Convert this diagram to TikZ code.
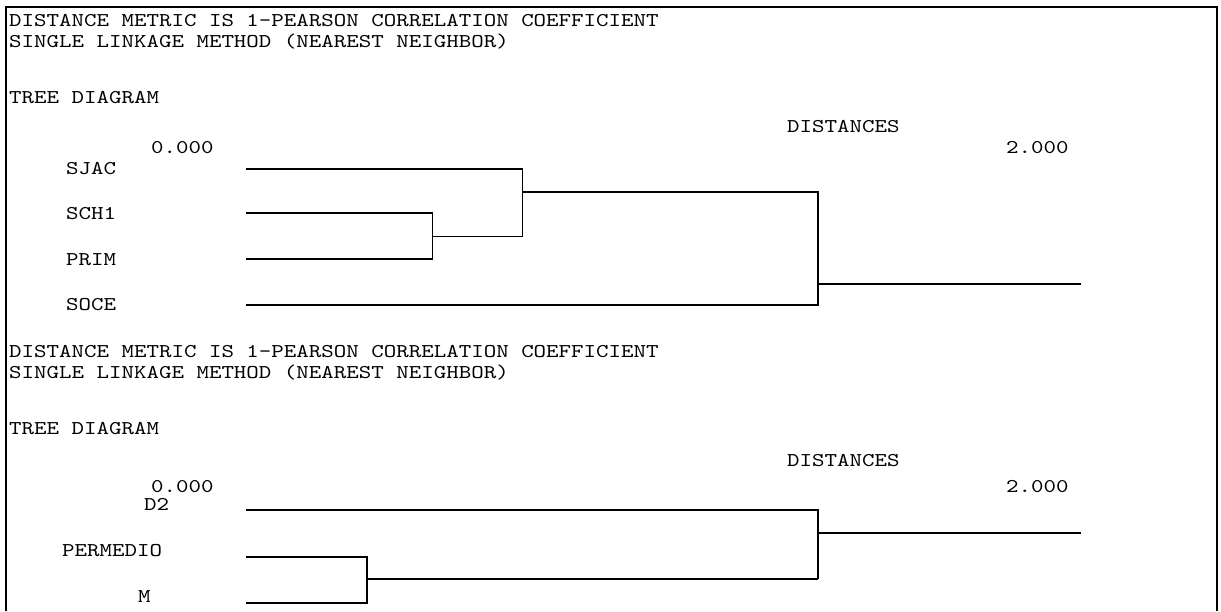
\documentclass[tikz,border=0pt]{standalone}
\usepackage{fontspec}
\setmonofont[FakeStretch=1.22]{lmmono10-regular.otf}
\begin{document}
\begin{tikzpicture}[x=1pt,y=-1pt,
  txt/.style={anchor=base west,inner sep=0pt,font=\ttfamily\fontsize{19.5}{24}\selectfont},
  tree/.style={line width=1.4pt},
  frame/.style={line width=2pt}]
\useasboundingbox (0,0) rectangle (1221,611);
% frame
\coordinate (fbl) at (5.5,611);
\coordinate (ftl) at (5.5,7);
\coordinate (ftr) at (1216.5,7);
\coordinate (fbr) at (1216.5,611);
\draw[frame] (fbl) -- (ftl) -- (ftr) -- (fbr);

% ---------- top panel ----------
\node[txt] (h1a) at (9,26) {DISTANCE METRIC IS 1-PEARSON CORRELATION COEFFICIENT};
\node[txt] (h1b) at (9,47) {SINGLE LINKAGE METHOD (NEAREST NEIGHBOR)};
\node[txt] (t1) at (9,103) {TREE DIAGRAM};
\node[txt] (d1) at (787,132) {DISTANCES};
\node[txt] (z1) at (151,153) {0.000};
\node[txt] (m1) at (1006,153) {2.000};
\node[txt] (sjac) at (66,174) {SJAC};
\node[txt] (sch1) at (66,219) {SCH1};
\node[txt] (prim) at (66,265) {PRIM};
\node[txt] (soce) at (66,310) {SOCE};

\coordinate (a0) at (246,169);
\coordinate (a1) at (522.5,169);
\coordinate (b0) at (246,213);
\coordinate (b1) at (432.5,213);
\coordinate (c0) at (246,259);
\coordinate (c1) at (432.5,259);
\coordinate (bc) at (432.5,236.5);
\coordinate (bc1) at (522.5,236.5);
\coordinate (abc) at (522.5,192);
\coordinate (abc1) at (818,192);
\coordinate (e0) at (246,305);
\coordinate (e1) at (818,305);
\coordinate (root1) at (818,284);
\coordinate (root1e) at (1081,284);

\draw[tree] (b0) -- (b1) -- (c1) -- (c0);
\draw[tree] (bc) -- (bc1);
\draw[tree] (a0) -- (a1) -- (bc1);
\draw[tree] (abc) -- (abc1) -- (e1) -- (e0);
\draw[tree] (root1) -- (root1e);

% ---------- bottom panel ----------
\node[txt] (h2a) at (9,357) {DISTANCE METRIC IS 1-PEARSON CORRELATION COEFFICIENT};
\node[txt] (h2b) at (9,378) {SINGLE LINKAGE METHOD (NEAREST NEIGHBOR)};
\node[txt] (t2) at (9,434) {TREE DIAGRAM};
\node[txt] (d2lab) at (787,466) {DISTANCES};
\node[txt] (z2) at (151,492) {0.000};
\node[txt] (m2) at (1006,492) {2.000};
\node[txt] (ld2) at (144,510) {D2};
\node[txt] (lperm) at (62,556) {PERMEDIO};
\node[txt] (lm) at (138,602) {M};

\coordinate (p0) at (246,510);
\coordinate (p1) at (818,510);
\coordinate (q0) at (246,557);
\coordinate (q1) at (367,557);
\coordinate (r0) at (246,603);
\coordinate (r1) at (367,603);
\coordinate (qr) at (367,579);
\coordinate (qr1) at (818,579);
\coordinate (root2) at (818,533);
\coordinate (root2e) at (1081,533);

\draw[tree] (q0) -- (q1) -- (r1) -- (r0);
\draw[tree] (qr) -- (qr1);
\draw[tree] (p0) -- (p1) -- (qr1);
\draw[tree] (root2) -- (root2e);
\end{tikzpicture}
\end{document}
